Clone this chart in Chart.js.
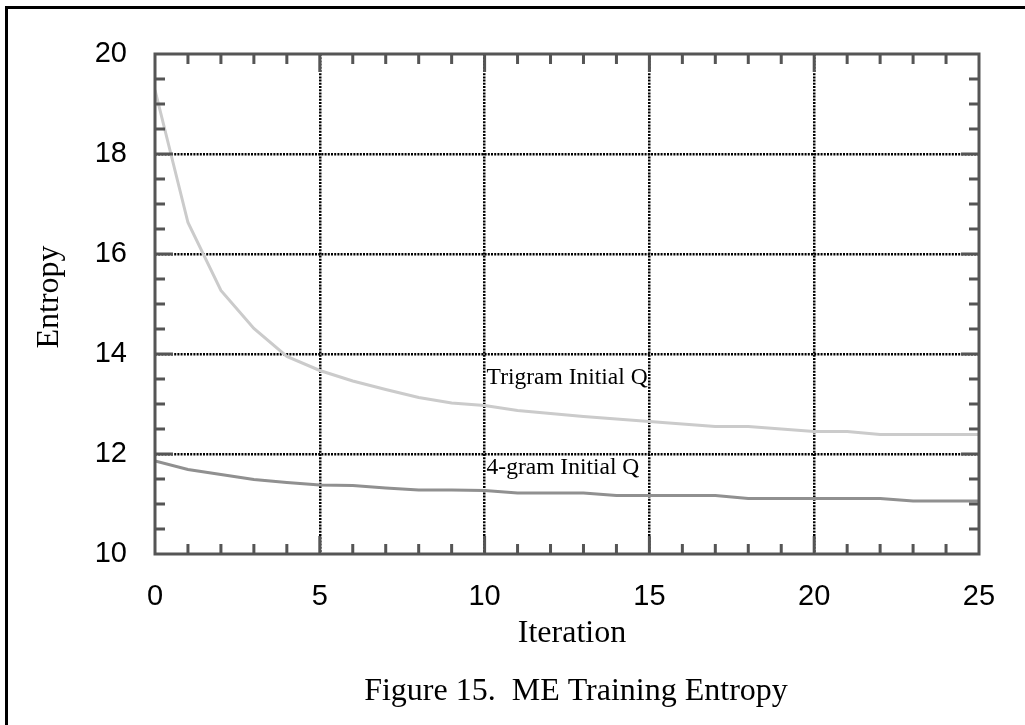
<!DOCTYPE html>
<html>
<head>
<meta charset="utf-8">
<script src="https://cdn.jsdelivr.net/npm/chart.js@4.4.1/dist/chart.umd.min.js"></script>
<style>
  html, body { margin: 0; padding: 0; background: #fff; overflow: hidden; }
  #wrap { position: relative; width: 1025px; height: 725px; }
</style>
</head>
<body>
<div id="wrap"><canvas id="entropyChart" width="1025" height="725"></canvas></div>
<script>
// data
const iterations = [0, 1, 2, 3, 4, 5, 6, 7, 8, 9, 10, 11, 12, 13, 14, 15, 16, 17, 18, 19, 20, 21, 22, 23, 24, 25];
const trigramEntropy = [19.28, 16.63, 15.27, 14.51, 13.95, 13.67, 13.46, 13.29, 13.13, 13.02, 12.97, 12.87, 12.81, 12.75, 12.70, 12.65, 12.60, 12.55, 12.55, 12.50, 12.45, 12.45, 12.39, 12.39, 12.39, 12.39];
const fourgramEntropy = [11.86, 11.69, 11.59, 11.49, 11.43, 11.38, 11.37, 11.32, 11.28, 11.28, 11.27, 11.22, 11.22, 11.22, 11.17, 11.17, 11.17, 11.17, 11.11, 11.11, 11.11, 11.11, 11.11, 11.06, 11.06, 11.06];
const xTickLabels = ['0', '5', '10', '15', '20', '25'];
const yTickLabels = ['10', '12', '14', '16', '18', '20'];
const seriesNames = ['Trigram Initial Q', '4-gram Initial Q'];
const seriesNameX = [10, 10];
const seriesNameY = [13.40, 11.60];
const xTitle = 'Iteration';
const yTitle = 'Entropy';
const caption = 'Figure 15.  ME Training Entropy';

const SANS = '"Liberation Sans", Arial, sans-serif';
const SERIF = '"Liberation Serif", "Times New Roman", serif';
const AXIS = '#555';

const toPoints = ys => ys.map((y, i) => ({ x: iterations[i], y }));

// frame, inward ticks and all the free text
const decor = {
  id: 'decor',
  beforeDraw(chart) {
    const ctx = chart.ctx;
    ctx.save();
    ctx.fillStyle = '#fff';
    ctx.fillRect(0, 0, chart.width, chart.height);
    // page border (top + left only, the rest runs off the shot)
    ctx.strokeStyle = '#000';
    ctx.lineWidth = 3;
    ctx.beginPath();
    ctx.moveTo(6.5, chart.height);
    ctx.lineTo(6.5, 7.5);
    ctx.lineTo(chart.width, 7.5);
    ctx.stroke();
    ctx.restore();
  },
  afterDatasetsDraw(chart) {
    const { ctx, chartArea: a, scales: { x, y } } = chart;
    ctx.save();
    ctx.strokeStyle = AXIS;
    ctx.lineWidth = 3;
    ctx.beginPath();
    for (let v = x.min + 1; v < x.max; v++) {
      const px = x.getPixelForValue(v);
      const len = xTickLabels.includes(String(v)) ? 18 : 10;
      ctx.moveTo(px, a.bottom); ctx.lineTo(px, a.bottom - len);
      ctx.moveTo(px, a.top); ctx.lineTo(px, a.top + len);
    }
    for (let v = y.min + 0.5; v < y.max; v += 0.5) {
      const py = y.getPixelForValue(v);
      const len = yTickLabels.includes(String(v)) ? 18 : 10;
      ctx.moveTo(a.left, py); ctx.lineTo(a.left + len, py);
      ctx.moveTo(a.right, py); ctx.lineTo(a.right - len, py);
    }
    ctx.stroke();
    ctx.strokeRect(a.left, a.top, a.right - a.left, a.bottom - a.top);

    // series names
    ctx.fillStyle = '#000';
    ctx.font = '23.5px ' + SERIF;
    ctx.textAlign = 'left';
    ctx.textBaseline = 'alphabetic';
    seriesNames.forEach((s, i) => {
      ctx.fillText(s, x.getPixelForValue(seriesNameX[i]) + 2, y.getPixelForValue(seriesNameY[i]));
    });

    // axis titles + caption
    ctx.font = '32px ' + SERIF;
    ctx.textAlign = 'center';
    ctx.fillText(xTitle, 572, 642);
    ctx.fillText(caption, 576, 700);
    ctx.translate(58, 297);
    ctx.rotate(-Math.PI / 2);
    ctx.fillText(yTitle, 0, 0);
    ctx.restore();
  }
};

const gridColor = (min, max, labels) => c => {
  const v = c.tick.value;
  if (v === min || v === max) return 'transparent';
  return labels.includes(String(v)) ? '#000' : 'transparent';
};

const chart = new Chart(document.getElementById('entropyChart'), {
  type: 'line',
  data: {
    datasets: [
      { label: seriesNames[0], data: toPoints(trigramEntropy), borderColor: '#cbcbcb', borderWidth: 3 },
      { label: seriesNames[1], data: toPoints(fourgramEntropy), borderColor: '#909090', borderWidth: 3 }
    ]
  },
  options: {
    responsive: false,
    animation: false,
    layout: { padding: { top: 54, right: 46, left: 0, bottom: 0 } },
    elements: { point: { radius: 0 }, line: { tension: 0 } },
    plugins: { legend: { display: false }, tooltip: { enabled: false } },
    scales: {
      x: {
        type: 'linear', min: 0, max: 25,
        afterFit: s => { s.height = 171; },
        ticks: {
          stepSize: 1, autoSkip: false, maxRotation: 0, padding: 26,
          color: '#000', font: { family: SANS, size: 29 },
          callback: v => xTickLabels.includes(String(v)) ? String(v) : ''
        },
        grid: { drawTicks: false, lineWidth: 2.5, color: gridColor(0, 25, xTickLabels) },
        border: { display: false, dash: [2, 1.2] }
      },
      y: {
        min: 10, max: 20,
        afterFit: s => { s.width = 155; },
        ticks: {
          stepSize: 0.5, autoSkip: false, padding: 28,
          color: '#000', font: { family: SANS, size: 29 },
          callback: v => yTickLabels.includes(String(v)) ? String(v) : ''
        },
        grid: { drawTicks: false, lineWidth: 2.5, color: gridColor(10, 20, yTickLabels) },
        border: { display: false, dash: [2, 1.2] }
      }
    }
  },
  plugins: [decor]
});
</script>
</body>
</html>
